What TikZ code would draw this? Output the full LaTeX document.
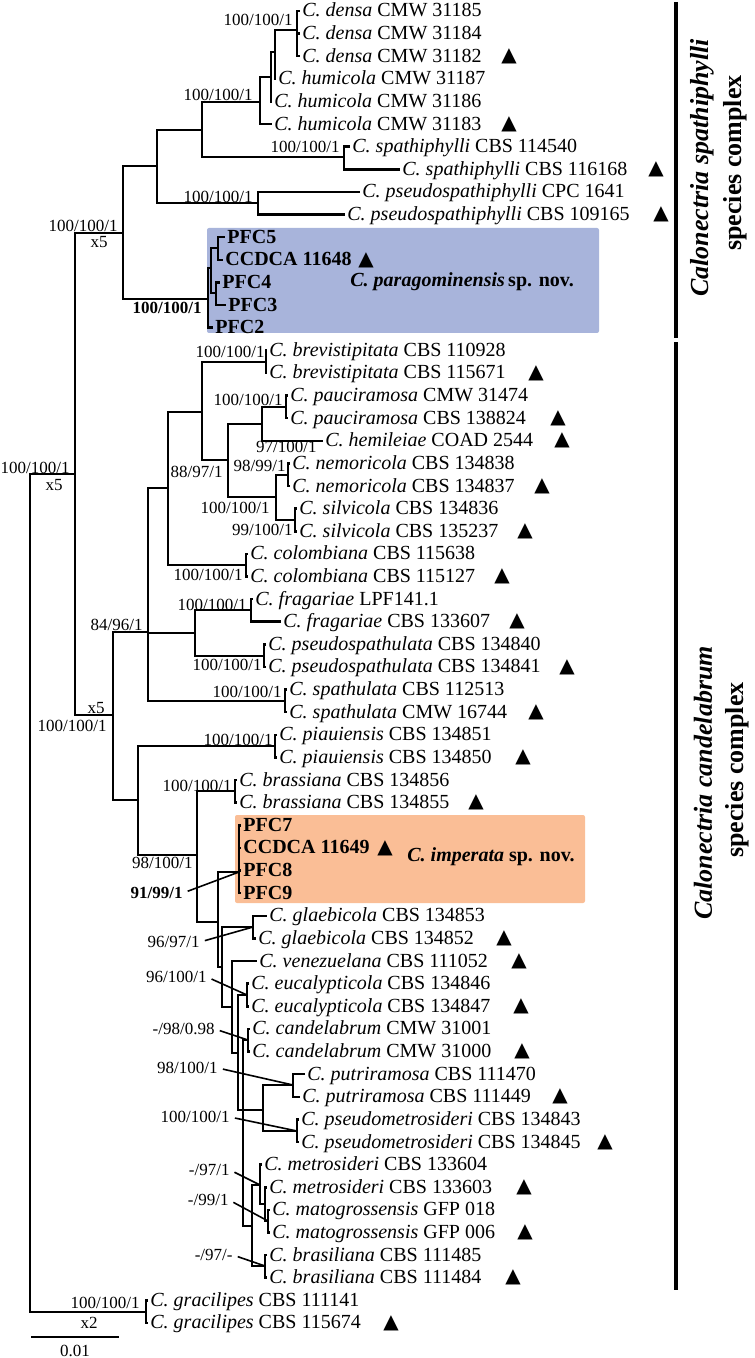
\documentclass[tikz,border=0pt]{standalone}
\usepackage{fontspec}
\setmainfont{Liberation Serif}
\newfontfamily\symfont{DejaVu Sans}
\usetikzlibrary{positioning}

\definecolor{novblue}{HTML}{A8B4DB}
\definecolor{novorange}{HTML}{FABE96}

\begin{document}
\begin{tikzpicture}[x=0.5pt,y=-0.5pt,
    branch/.style={line width=1.25pt},
    leader/.style={line width=0.8pt,shorten <=2.5pt},
    taxon/.style={anchor=west,inner sep=1pt,text height=7pt,text depth=1pt,
      font=\fontsize{10}{12}\selectfont},
    support/.style={anchor=east,inner sep=0pt,font=\fontsize{8.5}{10}\selectfont},
    marker/.style={inner sep=0pt,font=\symfont\fontsize{10}{10}\selectfont},
    clade/.style={rotate=90,inner sep=0pt,font=\bfseries\fontsize{13}{15}\selectfont}
  ]
  \useasboundingbox (0,0) rectangle (754,1358);

  % new species boxes
  \fill[novblue,rounded corners=1pt] (207,228) rectangle (599,333);
  \fill[novorange,rounded corners=1pt] (235,815) rectangle (585,903);

  % terminal taxa, one row each
  \foreach \i/\tip/\txt in {
    1/300/{\textit{C. densa} CMW 31185},
    2/300/{\textit{C. densa} CMW 31184},
    3/300/{\textit{C. densa} CMW 31182},
    4/276/{\textit{C. humicola} CMW 31187},
    5/272/{\textit{C. humicola} CMW 31186},
    6/272/{\textit{C. humicola} CMW 31183},
    7/350/{\textit{C. spathiphylli} CBS 114540},
    8/400/{\textit{C. spathiphylli} CBS 116168},
    9/360/{\textit{C. pseudospathiphylli} CPC 1641},
    10/345/{\textit{C. pseudospathiphylli} CBS 109165},
    11/225/{\bfseries PFC5},
    12/223/{\bfseries CCDCA 11648},
    13/220/{\bfseries PFC4},
    14/226/{\bfseries PFC3},
    15/213/{\bfseries PFC2},
    16/267/{\textit{C. brevistipitata} CBS 110928},
    17/267/{\textit{C. brevistipitata} CBS 115671},
    18/288/{\textit{C. pauciramosa} CMW 31474},
    19/288/{\textit{C. pauciramosa} CBS 138824},
    20/323/{\textit{C. hemileiae} COAD 2544},
    21/290/{\textit{C. nemoricola} CBS 134838},
    22/290/{\textit{C. nemoricola} CBS 134837},
    23/297/{\textit{C. silvicola} CBS 134836},
    24/297/{\textit{C. silvicola} CBS 135237},
    25/248/{\textit{C. colombiana} CBS 115638},
    26/248/{\textit{C. colombiana} CBS 115127},
    27/253/{\textit{C. fragariae} LPF141.1},
    28/281/{\textit{C. fragariae} CBS 133607},
    29/266/{\textit{C. pseudospathulata} CBS 134840},
    30/266/{\textit{C. pseudospathulata} CBS 134841},
    31/287/{\textit{C. spathulata} CBS 112513},
    32/287/{\textit{C. spathulata} CMW 16744},
    33/277/{\textit{C. piauiensis} CBS 134851},
    34/277/{\textit{C. piauiensis} CBS 134850},
    35/237/{\textit{C. brassiana} CBS 134856},
    36/237/{\textit{C. brassiana} CBS 134855},
    37/241/{\bfseries PFC7},
    38/241/{\bfseries CCDCA 11649},
    39/241/{\bfseries PFC8},
    40/241/{\bfseries PFC9},
    41/267/{\textit{C. glaebicola} CBS 134853},
    42/256/{\textit{C. glaebicola} CBS 134852},
    43/257/{\textit{C. venezuelana} CBS 111052},
    44/249/{\textit{C. eucalypticola} CBS 134846},
    45/249/{\textit{C. eucalypticola} CBS 134847},
    46/250/{\textit{C. candelabrum} CMW 31001},
    47/250/{\textit{C. candelabrum} CMW 31000},
    48/305/{\textit{C. putriramosa} CBS 111470},
    49/300/{\textit{C. putriramosa} CBS 111449},
    50/299/{\textit{C. pseudometrosideri} CBS 134843},
    51/299/{\textit{C. pseudometrosideri} CBS 134845},
    52/262/{\textit{C. metrosideri} CBS 133604},
    53/267/{\textit{C. metrosideri} CBS 133603},
    54/270/{\textit{C. matogrossensis} GFP 018},
    55/270/{\textit{C. matogrossensis} GFP 006},
    56/267/{\textit{C. brasiliana} CBS 111485},
    57/267/{\textit{C. brasiliana} CBS 111484},
    58/148/{\textit{C. gracilipes} CBS 111141},
    59/148/{\textit{C. gracilipes} CBS 115674}}
    \node[taxon] (l\i) at (\tip,{11+(\i-1)*22.62}) {\txt};

  % ex-type markers
  \foreach \i/\tx in {3/509,6/509,8/656,10/661,12/366,17/536,19/558,20/562,
      22/542,24/525,26/502,28/517,30/567,32/536,34/523,36/476,38/385,42/504,
      43/519,45/521,47/522,49/560,51/605,53/524,55/525,57/513,59/391}
    \node[marker] (m\i) at (\tx,{11+(\i-1)*22.62}) {▲};

  % internal nodes
  \coordinate (nRoot) at (30,894);
  \coordinate (nIn) at (75,474);
  \coordinate (nSpc) at (123,233);   % spathiphylli complex
  \coordinate (nS1) at (157,166);
  \coordinate (nS2) at (202,130);
  \coordinate (nDh) at (260,102);
  \coordinate (nDh2) at (271,77);
  \coordinate (nDh3) at (275,52);
  \coordinate (nDen) at (297,30);
  \coordinate (nSph) at (344,157);
  \coordinate (nPsp) at (258,203);
  \coordinate (nPfc) at (208,299);
  \coordinate (nP1) at (211,268);
  \coordinate (nP2) at (218,248);
  \coordinate (nP3) at (216,293);
  \coordinate (nCan) at (113,715);   % candelabrum complex
  \coordinate (nA) at (148,632);
  \coordinate (nA1) at (168,488);
  \coordinate (nA2) at (202,412);
  \coordinate (nBre) at (266,362);
  \coordinate (nA3) at (228,460);
  \coordinate (nA4) at (262,424);
  \coordinate (nPau) at (286,407);
  \coordinate (nA5) at (276,497);
  \coordinate (nNem) at (288,475);
  \coordinate (nSil) at (295,520);
  \coordinate (nCol) at (246,565);
  \coordinate (nFp) at (195,633);
  \coordinate (nFra) at (251,610);
  \coordinate (nPst) at (264,656);
  \coordinate (nSpt) at (285,701);
  \coordinate (nB) at (138,800);
  \coordinate (nPia) at (275,746);
  \coordinate (nB1) at (197,855);
  \coordinate (nBra) at (235,791);
  \coordinate (nB2) at (218,922);
  \coordinate (nImp) at (239,872);
  \coordinate (nB3) at (222,967);
  \coordinate (nGla) at (253,927);
  \coordinate (nB4) at (232,1007);
  \coordinate (nB5) at (238,1053);
  \coordinate (nEuc) at (247,995);
  \coordinate (nB6) at (243,1110);
  \coordinate (nCde) at (248,1040);
  \coordinate (nPp) at (263,1110);
  \coordinate (nPut) at (293,1085);
  \coordinate (nPsm) at (297,1131);
  \coordinate (nB8) at (252,1226);
  \coordinate (nM1) at (260,1185);
  \coordinate (nM2) at (265,1204);
  \coordinate (nMat) at (268,1221);
  \coordinate (nBras) at (265,1266);
  \coordinate (nGra) at (146,1312);

  % branches
  \foreach \p/\c in {nRoot/nIn,nRoot/nGra,nIn/nSpc,nIn/nCan,
      nSpc/nS1,nSpc/nPfc,nS1/nS2,nS1/nPsp,nS2/nDh,nS2/nSph,
      nDh/nDh2,nDh/l6.west,nDh2/nDh3,nDh2/l5.west,nDh3/nDen,nDh3/l4.west,
      nDen/l1.west,nDen/l2.west,nDen/l3.west,nSph/l7.west,nSph/l8.west,
      nPsp/l9.west,nPsp/l10.west,nPfc/nP1,nPfc/l15.west,nP1/nP2,nP1/nP3,
      nP2/l11.west,nP2/l12.west,nP3/l13.west,nP3/l14.west,
      nCan/nA,nCan/nB,nA/nA1,nA/nFp,nA/nSpt,nA1/nA2,nA1/nCol,
      nA2/nBre,nA2/nA3,nBre/l16.west,nBre/l17.west,nA3/nA4,nA3/nA5,
      nA4/nPau,nA4/l20.west,nPau/l18.west,nPau/l19.west,nA5/nNem,nA5/nSil,
      nNem/l21.west,nNem/l22.west,nSil/l23.west,nSil/l24.west,
      nCol/l25.west,nCol/l26.west,nFp/nFra,nFp/nPst,
      nFra/l27.west,nFra/l28.west,nPst/l29.west,nPst/l30.west,
      nSpt/l31.west,nSpt/l32.west,
      nB/nPia,nB/nB1,nPia/l33.west,nPia/l34.west,nB1/nBra,nB1/nB2,
      nBra/l35.west,nBra/l36.west,nB2/nImp,nB2/nB3,
      nImp/l37.west,nImp/l38.west,nImp/l39.west,nImp/l40.west,
      nB3/nGla,nB3/nB4,nGla/l41.west,nGla/l42.west,nB4/l43.west,nB4/nB5,
      nB5/nEuc,nB5/nB6,nEuc/l44.west,nEuc/l45.west,
      nB6/nCde,nB6/nPp,nB6/nB8,nCde/l46.west,nCde/l47.west,
      nPp/nPut,nPp/nPsm,nPut/l48.west,nPut/l49.west,nPsm/l50.west,nPsm/l51.west,
      nB8/nM1,nB8/nBras,nM1/l52.west,nM1/nM2,nM2/l53.west,nM2/nMat,
      nMat/l54.west,nMat/l55.west,nBras/l56.west,nBras/l57.west,
      nGra/l58.west,nGra/l59.west}
    \draw[branch] (\p) |- (\c);

  % support values
  \node[support] (s-root) at (70,468) {100/100/1};
  \node[support] (x-root) at (63,485) {x5};
  \node[support] (s-spc) at (118,226) {100/100/1};
  \node[support] (x-spc) at (108,242) {x5};
  \node[support] (s-den) at (293,20) {100/100/1};
  \node[support] (s-dh) at (253,95) {100/100/1};
  \node[support] (s-sph) at (340,147) {100/100/1};
  \node[support] (s-psp) at (253,197) {100/100/1};
  \node[support,font=\bfseries\fontsize{8.5}{10}\selectfont] (s-pfc) at (202,308) {100/100/1};
  \node[support] (x-can) at (105,708) {x5};
  \node[support] (s-can) at (107,726) {100/100/1};
  \node[support] (s-a) at (143,625) {84/96/1};
  \node[support] (s-a3) at (223,472) {88/97/1};
  \node[support] (s-bre) at (265,352) {100/100/1};
  \node[support] (s-pau) at (283,400) {100/100/1};
  \node[support] (s-a4) at (317,447) {97/100/1};
  \node[support] (s-nem) at (286,466) {98/99/1};
  \node[support] (s-a5) at (270,508) {100/100/1};
  \node[support] (s-sil) at (293,530) {99/100/1};
  \node[support] (s-col) at (243,575) {100/100/1};
  \node[support] (s-fra) at (247,605) {100/100/1};
  \node[support] (s-pst) at (262,665) {100/100/1};
  \node[support] (s-spt) at (282,692) {100/100/1};
  \node[support] (s-pia) at (273,740) {100/100/1};
  \node[support] (s-bra) at (232,786) {100/100/1};
  \node[support] (s-b1) at (193,863) {98/100/1};
  \node[support,font=\bfseries\fontsize{8.5}{10}\selectfont] (s-imp) at (183,893) {91/99/1};
  \node[support] (s-gla) at (200,942) {96/97/1};
  \node[support] (s-euc) at (207,977) {96/100/1};
  \node[support] (s-cde) at (215,1029) {-/98/0.98};
  \node[support] (s-put) at (218,1068) {98/100/1};
  \node[support] (s-psm) at (230,1117) {100/100/1};
  \node[support] (s-m1) at (230,1170) {-/97/1};
  \node[support] (s-mat) at (229,1200) {-/99/1};
  \node[support] (s-bras) at (233,1255) {-/97/-};
  \node[support] (s-gra) at (140,1303) {100/100/1};
  \node[support] (x-gra) at (98,1323) {x2};

  % leader lines to crowded nodes
  \foreach \s/\n in {s-imp/nImp,s-gla/nGla,s-euc/nEuc,s-cde/nCde,s-put/nPut,
      s-psm/nPsm,s-m1/nM1,s-mat/nMat,s-bras/nBras}
    \draw[leader] (\s.east) -- (\n);

  % species names in the boxes
  \node[anchor=west,inner sep=0pt,font=\bfseries\fontsize{10}{12}\selectfont]
    (nov1) at (350,282) {\textit{C. paragominensis}\,sp. nov.};
  \node[anchor=west,inner sep=0pt,font=\bfseries\fontsize{10}{12}\selectfont]
    (nov2) at (407,857) {\textit{C. imperata} sp. nov.};

  % scale bar
  \coordinate (bar1) at (31,1337);
  \coordinate (bar2) at (119,1337);
  \draw[line width=1pt] (bar1) -- (bar2);
  \node[support,anchor=center] (scale) at (75,1351) {0.01};

  % species complexes
  \draw[line width=2pt] (676,2) -- (676,338);
  \draw[line width=2pt] (676,342) -- (676,1290);
  \node[clade] (c-spa1) at (702,168) {\textit{Calonectria spathiphylli}};
  \node[clade] (c-spa2) at (735,163) {species complex};
  \node[clade] (c-can1) at (703,783) {\textit{Calonectria candelabrum}};
  \node[clade] (c-can2) at (737,770) {species complex};
\end{tikzpicture}
\end{document}
